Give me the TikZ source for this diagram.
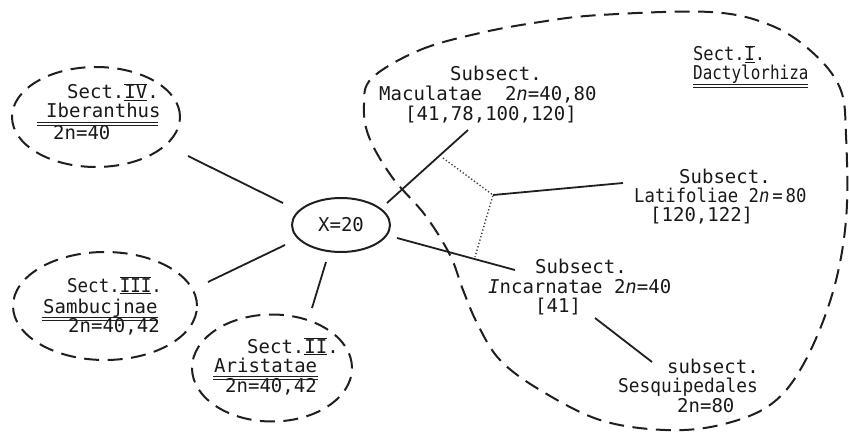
\documentclass[tikz,border=0pt]{standalone}
\usepackage{fontspec}
\setmainfont{DejaVu Sans Mono}
\usetikzlibrary{shapes.geometric}
\newcommand{\rnum}[1]{$\overline{\underline{\hbox{#1}}}$}
\begin{document}
\begin{tikzpicture}[x=1pt,y=-1pt,
  txt/.style={anchor=base west,inner sep=0pt,font=\fontsize{19}{21}\selectfont,text=black!90},
  dashbd/.style={draw=black!88,line width=2pt,dash pattern=on 15pt off 8.5pt},
  conn/.style={draw=black!88,line width=1.8pt},
  dotline/.style={draw=black!75,line width=1.4pt,dash pattern=on 1.3pt off 2.2pt},
  uline/.style={draw=black!88,line width=1pt},
  sect/.style={ellipse,dashbd,inner sep=0pt}]
\useasboundingbox (0,0) rectangle (849,433);

% Sect. I outline
\draw[dashbd] plot[smooth cycle, tension=0.6] coordinates {
 (372,78) (420,50) (480,33) (540,22) (600,15) (710,12) (770,25) (812,52)
 (840,88) (846,135) (846,220) (832,295) (803,365) (770,405) (720,425)
 (665,430) (600,420) (540,390) (500,360) (478,325) (463,290) (450,255)
 (425,215) (392,177) (369,137) (364,105)};

% ellipses
\node[ellipse,draw=black!88,line width=2pt,minimum width=98,minimum height=54,inner sep=0pt,
  font=\fontsize{19}{21}\selectfont,text=black!90] (x20) at (341,225) {X=20};
\node[sect,minimum width=168,minimum height=100] (s4) at (96,117) {};
\node[sect,minimum width=184,minimum height=108] (s3) at (105,306) {};
\node[sect,minimum width=160,minimum height=107] (s2) at (272,368) {};

% Sect IV
\node[txt] (s4a) at (67,99) {Sect.\rnum{IV}.};
\node[txt] (s4b) at (46,118) {Iberanthus};
\node[txt] (s4c) at (53,140) {2n=40};
\draw[uline] (37,123) -- (158,123) (37,126) -- (158,126);

% Sect III
\node[txt,xscale=0.92] (s3a) at (67,292) {Sect.\rnum{III}.};
\node[txt] (s3b) at (43,313) {Sambucjnae};
\node[txt] (s3c) at (68,332) {2n=40,42};
\draw[uline] (42,317) -- (158,317) (42,320) -- (158,320);

% Sect II
\node[txt] (s2a) at (247,353) {Sect.\rnum{II}.};
\node[txt] (s2b) at (214,372) {Aristatae};
\node[txt] (s2c) at (225,392) {2n=40,42};
\draw[uline] (213,376) -- (318,376) (213,379) -- (318,379);

% Sect I
\node[txt,xscale=0.9] (s1a) at (693,61) {Sect.\rnum{I}.};
\node[txt,xscale=0.84] (s1b) at (693,80) {Dactylorhiza};
\draw[uline] (693,85) -- (808,85) (693,88) -- (808,88);

% Maculatae
\node[txt] (ma) at (450,81) {Subsect.};
\node[txt] (mb) at (379,101) {Maculatae\ \ 2\textit{n}=40,80};
\node[txt] (mc) at (405,121) {[41,78,100,120]};

% Latifoliae
\node[txt] (la) at (679,183) {Subsect.};
\node[txt,xscale=0.91] (lb) at (634,202) {Latifoliae 2\textit{n}\,=\,80};
\node[txt] (lc) at (650,222) {[120,122]};

% Incarnatae
\node[txt] (ia) at (535,273) {Subsect.};
\node[txt] (ib) at (488,293) {\textit{I}ncarnatae 2\textit{n}=40};
\node[txt] (ic) at (535,312) {[41]};

% Sesquipedales
\node[txt] (sa) at (667,373) {subsect.};
\node[txt,xscale=0.94] (sb) at (618,392) {Sesquipedales};
\node[txt] (sc) at (677,412) {2n=80};

% connector ends
\coordinate (p4a) at (188,156); \coordinate (p4b) at (283,203);
\coordinate (p3a) at (208,282); \coordinate (p3b) at (285,245);
\coordinate (p2a) at (326,262); \coordinate (p2b) at (312,308);
\coordinate (pma) at (387,203); \coordinate (pmb) at (468,130);
\coordinate (pia) at (397,238); \coordinate (pib) at (515,270);
\coordinate (pla) at (493,195); \coordinate (plb) at (623,183);
\coordinate (psa) at (595,318); \coordinate (psb) at (652,362);
\coordinate (d1) at (443,158); \coordinate (d3) at (475,257);

\draw[conn] (p4a) -- (p4b);
\draw[conn] (p3a) -- (p3b);
\draw[conn] (p2a) -- (p2b);
\draw[conn] (pma) -- (pmb);
\draw[conn] (pia) -- (pib);
\draw[conn] (pla) -- (plb);
\draw[conn] (psa) -- (psb);
\draw[dotline] (d1) -- (pla) -- (d3);
\end{tikzpicture}
\end{document}
